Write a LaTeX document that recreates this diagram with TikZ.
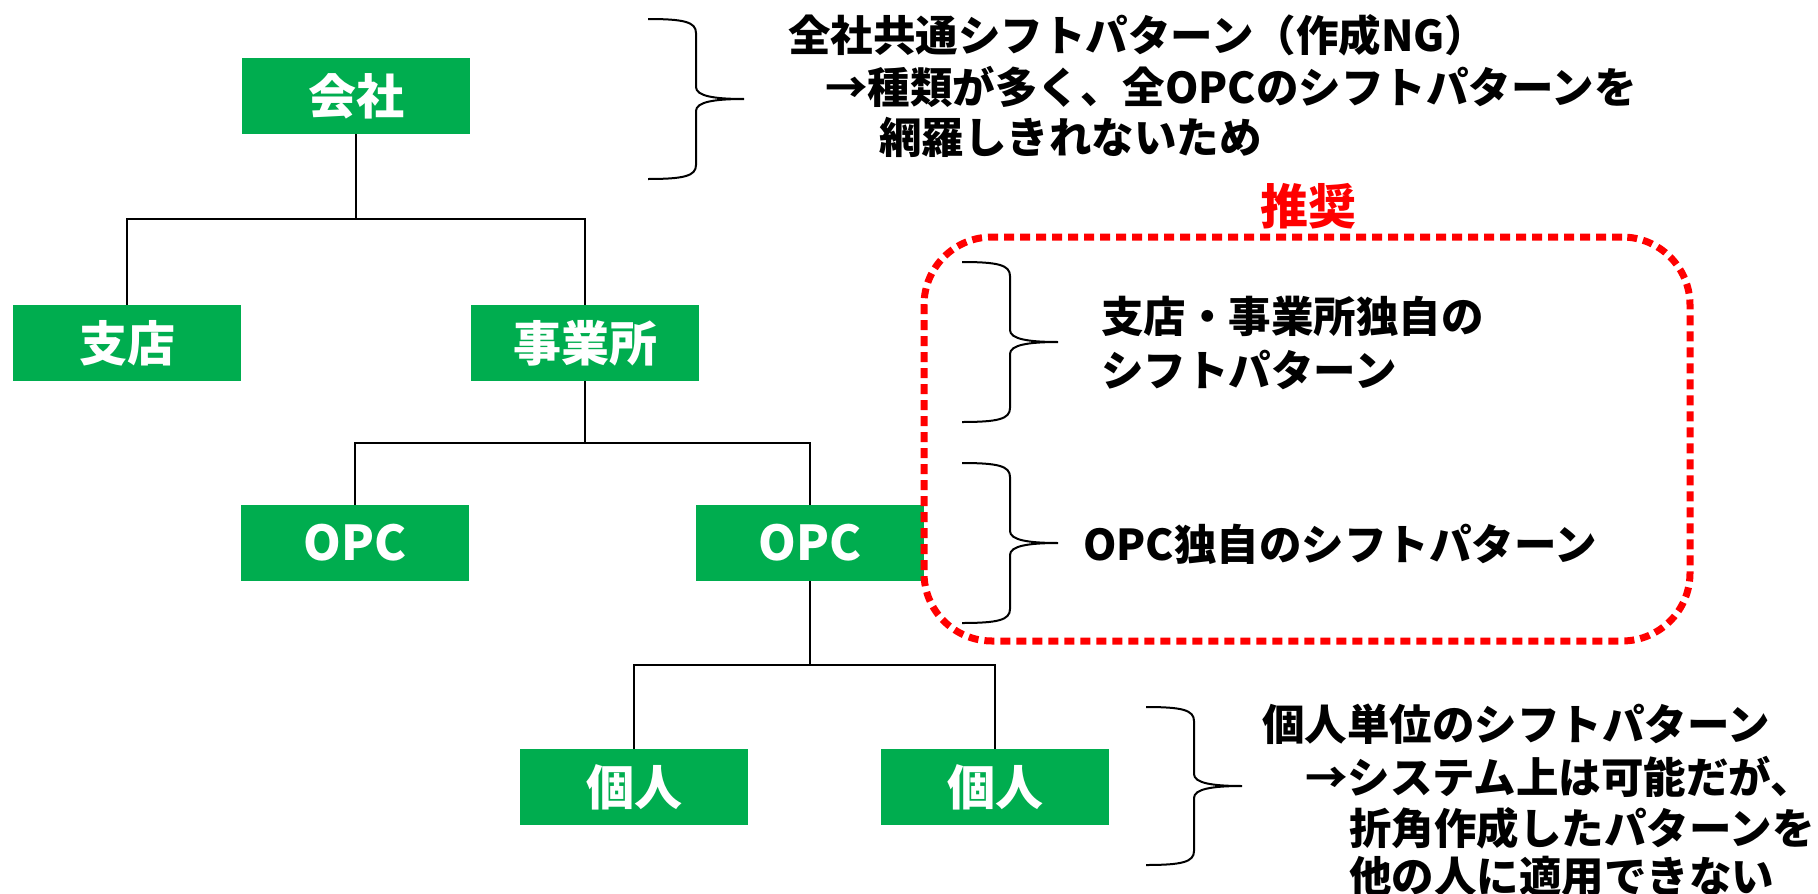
\documentclass[tikz,border=0pt]{standalone}
\usepackage{fontspec}
\newfontfamily\jp{Noto Sans CJK JP}
\definecolor{boxgreen}{HTML}{00AD4F}
\definecolor{recred}{HTML}{FF0000}
\tikzset{
  orgbox/.style={fill=boxgreen, text=white, minimum width=228pt, minimum height=76pt, inner sep=0pt,
    font=\jp\bfseries\fontsize{48}{52}\selectfont},
  conn/.style={draw=black, line width=2pt},
  txt/.style={anchor=west, inner sep=0pt, font=\jp\bfseries\fontsize{42.5}{48}\selectfont},
  bracestyle/.style={draw=black, line width=2pt},
  dotbox/.style={draw=recred, line width=7pt, dash pattern=on 10pt off 6pt, rounded corners=68pt,
    minimum width=766pt, minimum height=404pt, inner sep=0pt}
}
\newcommand\rbrc[3]{% x0, ytop, ybottom
  \draw[bracestyle] (#1,#2) .. controls (#1+36,#2) and (#1+48,#2+3) .. (#1+48,#2+14)
    -- (#1+48,{(#2+#3)/2-12}) .. controls (#1+48,{(#2+#3)/2-3}) and (#1+66,{(#2+#3)/2}) .. (#1+96,{(#2+#3)/2})
    .. controls (#1+66,{(#2+#3)/2}) and (#1+48,{(#2+#3)/2+3}) .. (#1+48,{(#2+#3)/2+12})
    -- (#1+48,#3-14) .. controls (#1+48,#3-3) and (#1+36,#3) .. (#1,#3);
}
\begin{document}
\begin{tikzpicture}[x=1pt,y=-1pt]
\useasboundingbox (0,0) rectangle (1818,894);
% org boxes
\node[orgbox] (kaisha) at (356,96) {会社};
\node[orgbox] (shiten) at (127,343) {支店};
\node[orgbox] (jigyo) at (585,343) {事業所};
\node[orgbox] (opc1) at (355,543) {OPC};
\node[orgbox] (opc2) at (810,543) {OPC};
\node[orgbox] (kojin1) at (634,787) {個人};
\node[orgbox] (kojin2) at (995,787) {個人};
% junction levels
\coordinate (j1) at (0,219);
\coordinate (j2) at (0,443);
\coordinate (j3) at (0,665);
% connectors
\draw[conn] (kaisha.south) -- (kaisha.south |- j1);
\draw[conn] (shiten.north) |- (jigyo.north |- j1) -- (jigyo.north);
\draw[conn] (jigyo.south) -- (jigyo.south |- j2);
\draw[conn] (opc1.north) |- (opc2.north |- j2) -- (opc2.north);
\draw[conn] (opc2.south) -- (opc2.south |- j3);
\draw[conn] (kojin1.north) |- (kojin2.north |- j3) -- (kojin2.north);
% recommended frame
\node[dotbox] (frame) at (1307,439) {};
\node[inner sep=0pt, text=recred, font=\jp\bfseries\fontsize{48}{52}\selectfont] (rec) at (1308,206) {推奨};
% braces
\rbrc{648}{19}{179}
\rbrc{962}{262}{422}
\rbrc{962}{463}{623}
\rbrc{1146}{707}{865}
% texts
\node[txt] (t1) at (788,35) {全社共通シフトパターン（作成NG）};
\node[txt] (t2) at (825,87) {→種類が多く、全OPCのシフトパターンを};
\node[txt] (t3) at (879,137) {網羅しきれないため};
\node[txt] (s1) at (1101,316) {支店・事業所独自の};
\node[txt] (s2) at (1101,370) {シフトパターン};
\node[txt] (s3) at (1083,544) {OPC独自のシフトパターン};
\node[txt] (b1) at (1262,724) {個人単位のシフトパターン};
\node[txt] (b2) at (1305,777) {→システム上は可能だが、};
\node[txt] (b3) at (1349,828) {折角作成したパターンを};
\node[txt] (b4) at (1349,876) {他の人に適用できない};
\end{tikzpicture}
\end{document}
